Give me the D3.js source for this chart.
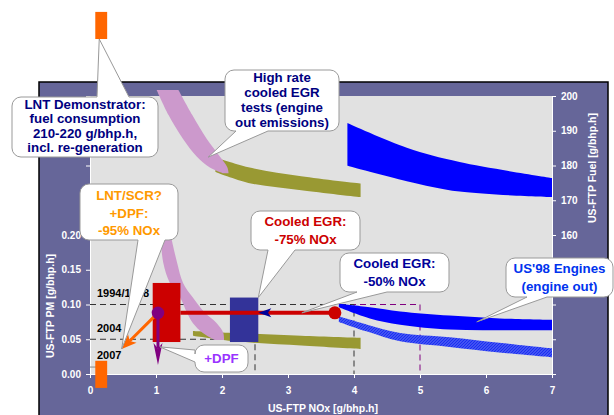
<!DOCTYPE html>
<meta charset="utf-8">
<style>
  body { margin: 0; background: #fff; }
  svg text { font-family: "Liberation Sans", Arial, sans-serif; font-weight: bold; }
  .axis text { fill: #fff; font-size: 10px; }
  .axis line, .axis path { stroke: #fff; }
  .bubble path { fill: #fff; stroke: #999; stroke-width: 1; }
  .bubble text { font-size: 13.3px; }
</style>
<svg width="614" height="415"></svg>
<script src="https://d3js.org/d3.v7.min.js"></script>
<script>

    // axis ticks
    var noxTicks = [0, 1, 2, 3, 4, 5, 6, 7];
    var pmTicks = [0, 0.05, 0.10, 0.15, 0.20, 0.25, 0.30, 0.35, 0.40];
    var fuelTicks = [120, 130, 140, 150, 160, 170, 180, 190, 200];

    // fuel bands: [nox, fuelLow, fuelHigh]
    var oliveFuel = [[1.9, 178.1, 182.4], [2.4, 175.0, 179.5], [3.2, 172.9, 176.9], [4.1, 170.9, 174.8]];
    var blueFuel = [[3.9, 179.9, 192.2], [4.8, 175.5, 185.1], [5.6, 172.5, 181.0], [7.0, 170.9, 176.4]];
    // steep pink fuel band: [fuel, noxLow, noxHigh]
    var pinkFuel = [[201.7, 1.01, 1.34], [194.5, 1.19, 1.55], [187.6, 1.41, 1.77], [182.5, 1.62, 1.97], [179.5, 1.81, 2.08], [177.8, 2.01, 2.10]];

    // PM bands: [nox, pmLow, pmHigh]
    var olivePM = [[1.56, 0.055, 0.062], [2.2, 0.047, 0.059], [3.2, 0.041, 0.055], [4.1, 0.036, 0.052]];
    var bluePM = [[3.77, 0.096, 0.101], [4.24, 0.080, 0.096], [4.70, 0.071, 0.090], [5.45, 0.064, 0.084], [6.21, 0.063, 0.080], [7.0, 0.063, 0.078]];
    var hatchPM = [[3.77, 0.075, 0.083], [4.2, 0.061, 0.071], [4.7, 0.047, 0.059], [5.45, 0.039, 0.053], [6.2, 0.031, 0.045], [7.0, 0.024, 0.037]];
    // pink PM band: [pm, noxLow, noxHigh]
    var pinkPM = [[0.25, 1.00, 1.14], [0.207, 1.06, 1.21], [0.160, 1.11, 1.32], [0.131, 1.21, 1.41], [0.111, 1.36, 1.55], [0.088, 1.47, 1.74], [0.073, 1.56, 1.92], [0.059, 1.71, 2.02], [0.049, 1.89, 2.03]];

    // emission standards: [nox limit, pm limit]
    var std1994 = [5.0, 0.10];
    var std1998 = [4.0, 0.10];
    var std2004 = [2.5, 0.05];
    var std2007 = [0.2, 0.01];
    var stdLabels = ["1994/1998", "2004", "2007"];
    var stdLabelPM = [0.10, 0.05, 0.01];

    // boxes: [nox0, nox1, pm0, pm1]
    var lntSCRBox = [0.95, 1.37, 0.046, 0.131];
    var egrBox = [2.12, 2.55, 0.046, 0.110];
    var lntPMBox = [0.08, 0.26, -0.02, 0.019];
    // LNT demonstrator fuel: [nox0, nox1, fuel0, fuel1]
    var lntFuelBox = [0.08, 0.26, 216.4, 224.2];

    // points: [nox, pm]
    var egr50Point = [3.71, 0.088];
    var dpfPoint = [1.03, 0.088];
    var dpfTarget = [1.03, 0.013];
    var scrTarget = [0.48, 0.036];

    var svg = d3.select("svg");

    var x = d3.scaleLinear().domain([0, 7]).range([90, 552]);
    var yPM = d3.scaleLinear().domain([0, 0.4]).range([374, 96]);
    var yFuel = d3.scaleLinear().domain([120, 200]).range([374, 96]);

    var defs = svg.append("defs");
    var pat = defs.append("pattern")
        .attr("id", "hatch")
        .attr("patternUnits", "userSpaceOnUse")
        .attr("width", 3).attr("height", 3);
    pat.append("rect").attr("width", 3).attr("height", 3).attr("fill", "#a6b0f8");
    pat.append("path").attr("d", "M-1,1L1,-1M0,3L3,0M2,4L4,2")
        .attr("stroke", "#1a2ef2").attr("stroke-width", 1.7);

    // outer frame and plot area
    svg.append("rect")
        .attr("x", 39).attr("y", 82)
        .attr("width", 569).attr("height", 345)
        .attr("fill", "#666699")
        .attr("stroke", "#000").attr("stroke-width", 1.5);
    svg.append("rect")
        .attr("x", x(0)).attr("y", yPM(0.4))
        .attr("width", x(7) - x(0)).attr("height", yPM(0) - yPM(0.4))
        .attr("fill", "#e1e1e1");

    // axes
    svg.append("g").attr("class", "axis")
        .attr("transform", "translate(0," + yPM(0) + ")")
        .call(d3.axisBottom(x).tickValues(noxTicks).tickSize(4).tickSizeOuter(0).tickPadding(9)
            .tickFormat(d3.format("d")));
    svg.append("g").attr("class", "axis")
        .attr("transform", "translate(" + x(0) + ",0)")
        .call(d3.axisLeft(yPM).tickValues(pmTicks).tickSize(4).tickSizeOuter(0).tickPadding(5)
            .tickFormat(function (d) { return d <= 0.2001 ? d3.format(".2f")(d) : ""; }));
    svg.append("g").attr("class", "axis")
        .attr("transform", "translate(" + x(7) + ",0)")
        .call(d3.axisRight(yFuel).tickValues(fuelTicks).tickSize(4).tickSizeOuter(0).tickPadding(5)
            .tickFormat(function (d) { return d >= 160 ? d : ""; }));

    svg.append("text")
        .attr("x", 323).attr("y", 409)
        .attr("text-anchor", "middle").attr("dominant-baseline", "middle")
        .attr("fill", "#fff").style("font-size", "10.5px")
        .text("US-FTP NOx [g/bhp.h]");
    svg.append("text")
        .attr("transform", "translate(51,306) rotate(-90)")
        .attr("text-anchor", "middle").attr("dominant-baseline", "middle")
        .attr("fill", "#fff").style("font-size", "10.5px")
        .text("US-FTP PM [g/bhp.h]");
    svg.append("text")
        .attr("transform", "translate(593,168) rotate(-90)")
        .attr("text-anchor", "middle").attr("dominant-baseline", "middle")
        .attr("fill", "#fff").style("font-size", "10.5px")
        .text("US-FTP Fuel [g/bhp.h]");

    // standards (dashed boxes)
    function stdBox(s, color) {
        svg.append("path")
            .attr("d", "M" + x(0) + "," + yPM(s[1]) + "H" + x(s[0]) + "V" + yPM(0))
            .attr("fill", "none")
            .attr("stroke", color).attr("stroke-width", 1)
            .attr("stroke-dasharray", "6,4");
    }
    stdBox(std1994, "#800080");
    stdBox(std1998, "#333");
    stdBox(std2004, "#333");
    stdBox(std2007, "#888");

    svg.selectAll(".stdlabel")
        .data(stdLabels)
        .enter().append("text")
        .attr("class", "stdlabel")
        .attr("x", 97)
        .attr("y", function (d, i) { return yPM(stdLabelPM[i]) - 10.5; })
        .attr("dominant-baseline", "middle")
        .style("font-size", "11px")
        .attr("fill", "#000")
        .text(function (d) { return d; });

    // bands
    function bandX(ys) {
        return d3.area()
            .x(function (d) { return x(d[0]); })
            .y0(function (d) { return ys(d[1]); })
            .y1(function (d) { return ys(d[2]); })
            .curve(d3.curveCatmullRom);
    }
    function bandY(ys) {
        return d3.area()
            .y(function (d) { return ys(d[0]); })
            .x0(function (d) { return x(d[1]); })
            .x1(function (d) { return x(d[2]); })
            .curve(d3.curveCatmullRom);
    }

    svg.append("path").datum(oliveFuel).attr("d", bandX(yFuel)).attr("fill", "#999933");
    svg.append("path").datum(pinkFuel).attr("d", bandY(yFuel)).attr("fill", "#cc99cc");
    svg.append("path").datum(blueFuel).attr("d", bandX(yFuel)).attr("fill", "#0000ff");

    svg.append("path").datum(olivePM).attr("d", bandX(yPM)).attr("fill", "#999933");
    svg.append("path").datum(pinkPM).attr("d", bandY(yPM)).attr("fill", "#cc99cc");
    svg.append("path").datum(hatchPM).attr("d", bandX(yPM)).attr("fill", "url(#hatch)");
    svg.append("path").datum(bluePM).attr("d", bandX(yPM)).attr("fill", "#0000ff");

    // boxes
    function box(b, ys, color) {
        svg.append("rect")
            .attr("x", x(b[0])).attr("width", x(b[1]) - x(b[0]))
            .attr("y", ys(b[3])).attr("height", ys(b[2]) - ys(b[3]))
            .attr("fill", color);
    }
    box(lntSCRBox, yPM, "#cc0000");
    box(egrBox, yPM, "#333399");
    box(lntPMBox, yPM, "#ff6600");
    box(lntFuelBox, yFuel, "#ff6600");

    // arrows
    function arrowHead(x1, y1, x2, y2, len, w, color) {
        var a = Math.atan2(y2 - y1, x2 - x1),
            c = Math.cos(a), s = Math.sin(a),
            bx = x2 - c * len, by = y2 - s * len,
            nx = x2 - c * len * 0.75, ny = y2 - s * len * 0.75;
        svg.append("path")
            .attr("d", "M" + x2 + "," + y2 +
                "L" + (bx - s * w / 2) + "," + (by + c * w / 2) +
                "L" + nx + "," + ny +
                "L" + (bx + s * w / 2) + "," + (by - c * w / 2) + "Z")
            .attr("fill", color);
        return [nx, ny];
    }
    function arrow(p0, p1, width, len, w, color) {
        var x1 = x(p0[0]), y1 = yPM(p0[1]), x2 = x(p1[0]), y2 = yPM(p1[1]);
        var n = arrowHead(x1, y1, x2, y2, len, w, color);
        svg.append("line")
            .attr("x1", x1).attr("y1", y1).attr("x2", n[0]).attr("y2", n[1])
            .attr("stroke", color).attr("stroke-width", width);
    }

    // cooled EGR path: red line to LNT box, navy head at EGR box
    svg.append("line")
        .attr("x1", x(egr50Point[0])).attr("y1", yPM(egr50Point[1]))
        .attr("x2", x(lntSCRBox[1])).attr("y2", yPM(egr50Point[1]))
        .attr("stroke", "#cc0000").attr("stroke-width", 4);
    arrowHead(x(egr50Point[0]), yPM(egr50Point[1]), x(egrBox[1]), yPM(egr50Point[1]), 13, 9, "#000099");
    svg.append("circle")
        .attr("cx", x(egr50Point[0])).attr("cy", yPM(egr50Point[1])).attr("r", 6.5)
        .attr("fill", "#cc0000");

    arrow(dpfPoint, dpfTarget, 3, 22, 9, "#800080");
    arrow(dpfPoint, scrTarget, 3, 15, 12, "#ff6600");
    svg.append("circle")
        .attr("cx", x(dpfPoint[0])).attr("cy", yPM(dpfPoint[1])).attr("r", 6.3)
        .attr("fill", "#800080");

    // callouts
    function bubble(b, side, p0, p1, tx, ty) {
        var r = 9, x0 = b[0], y0 = b[1], x1 = b[2], y1 = b[3];
        var p = "M" + (x0 + r) + "," + y0;
        if (side === "top") p += "L" + p0 + "," + y0 + "L" + tx + "," + ty + "L" + p1 + "," + y0;
        p += "L" + (x1 - r) + "," + y0 + "A" + r + "," + r + " 0 0 1 " + x1 + "," + (y0 + r);
        p += "L" + x1 + "," + (y1 - r) + "A" + r + "," + r + " 0 0 1 " + (x1 - r) + "," + y1;
        if (side === "bottom") p += "L" + p1 + "," + y1 + "L" + tx + "," + ty + "L" + p0 + "," + y1;
        p += "L" + (x0 + r) + "," + y1 + "A" + r + "," + r + " 0 0 1 " + x0 + "," + (y1 - r);
        if (side === "left") p += "L" + x0 + "," + p1 + "L" + tx + "," + ty + "L" + x0 + "," + p0;
        p += "L" + x0 + "," + (y0 + r) + "A" + r + "," + r + " 0 0 1 " + (x0 + r) + "," + y0 + "Z";
        return p;
    }
    function callout(b, side, p0, p1, tip, lines, firstY, lh, color) {
        var g = svg.append("g").attr("class", "bubble");
        g.append("path").attr("d", bubble(b, side, p0, p1, tip[0], tip[1]));
        g.selectAll("text")
            .data(lines)
            .enter().append("text")
            .attr("x", (b[0] + b[2]) / 2)
            .attr("y", function (d, i) { return firstY + i * lh; })
            .attr("text-anchor", "middle")
            .attr("dominant-baseline", "middle")
            .attr("fill", color)
            .text(function (d) { return d; });
    }

    callout([12, 97, 158, 157], "top", 97, 129,
        [x(0.14), yFuel(lntFuelBox[2])],
        ["LNT Demonstrator:", "fuel consumption", "210-220 g/bhp.h,", "incl. re-generation"],
        105.5, 14.3, "#000080");
    callout([225, 70, 339, 131], "bottom", 236, 268,
        [x(1.79), yFuel(182.4)],
        ["High rate", "cooled EGR", "tests (engine", "out emissions)"],
        78.5, 15, "#000080");
    callout([80, 184, 178, 240], "bottom", 138, 165,
        [x(scrTarget[0]), yPM(scrTarget[1])],
        ["LNT/SCR?", "+DPF:", "-95% NOx"],
        196.5, 17.5, "#ff9900");
    callout([251, 211, 360, 250], "bottom", 268, 295,
        [x(egrBox[1]), yPM(egrBox[3])],
        ["Cooled EGR:", "-75% NOx"],
        222.5, 18, "#cc0000");
    callout([340, 253, 449, 292], "bottom", 357, 387,
        [x(3.21), yPM(egr50Point[1])],
        ["Cooled EGR:", "-50% NOx"],
        264.5, 18, "#000099");
    callout([506, 258, 613, 297], "bottom", 527, 547,
        [x(5.86), yPM(0.075)],
        ["US'98 Engines", "(engine out)"],
        269.5, 18, "#0033ee");
    callout([195, 345, 248, 372], "left", 350, 362,
        [x(1.06), yPM(0.039)],
        ["+DPF"],
        359, 0, "#9933ff");

</script>
